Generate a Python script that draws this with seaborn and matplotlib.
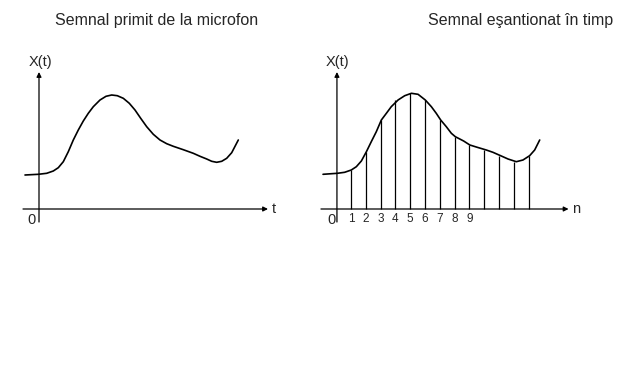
import matplotlib
matplotlib.use("Agg")
import matplotlib.pyplot as plt
import seaborn as sns
import pandas as pd

sns.set_theme(style="white")
plt.rcParams['font.family'] = ['Liberation Sans', 'DejaVu Sans']

# Left panel: continuous signal (t, X)
t_cont = [-14, -0.7, 7.7, 14.3, 19.3, 24.3, 29.3, 34.3, 39.3, 44.3, 49.3, 54.3, 61, 67, 72.7,
          78.3, 84.3, 90.3, 96, 101.7, 107.7, 114.3, 121, 127.7, 134.3, 144.3, 154.3, 161,
          167.7, 172.7, 177.7, 182.7, 187.7, 192.7, 199.3]
x_cont = [34, 34.7, 35.7, 38, 41.3, 47.3, 57.3, 69, 79, 88, 95.7, 102.3, 109, 112.7, 114,
          113.3, 110.7, 105.7, 99, 90.7, 82.3, 74.7, 69, 65.3, 62.7, 59.3, 55.7, 52.7,
          50, 47.7, 46.7, 47.7, 50.7, 56.3, 69]

# Right panel: sampled signal
n_curve = [-0.89, 0.08, 0.57, 1.02, 1.36, 1.70, 2.04, 2.37, 2.71, 3.05, 3.39, 3.72, 4.18, 4.63,
           5.08, 5.53, 6.02, 6.43, 6.76, 7.06, 7.44, 7.78, 8.05, 8.61, 9.03, 9.53, 10.14,
           10.59, 11.11, 11.61, 12.17, 12.62, 13.07, 13.41, 13.75]
x_curve = [34.7, 35.7, 36.7, 39, 42.3, 48, 57.3, 67.3, 77.3, 89, 95.7, 102.3, 109, 113.3,
           115.7, 114.7, 109, 102.3, 95.7, 89, 82.3, 75.7, 72.3, 68, 64, 61.7, 59,
           56.7, 53.3, 50, 47.3, 49, 53.3, 59, 69]
n_samples = [1, 2, 3, 4, 5, 6, 7, 8, 9, 10, 11, 12, 13]
x_samples = [39, 57.3, 89, 109, 115.7, 109, 89, 72.3, 64, 59, 53.3, 47.3, 53.3]
n_labels = ["1", "2", "3", "4", "5", "6", "7", "8", "9"]

title_left = "Semnal primit de la microfon"
title_right = "Semnal eşantionat în timp"

fig = plt.figure(figsize=(6.28, 3.84), dpi=100)
fig.patch.set_facecolor("white")

axL = fig.add_axes([0, 0, 0.5, 1])
axR = fig.add_axes([0.5, 0, 0.5, 1])
for ax in (axL, axR):
    ax.set_axis_off()
    ax.set_ylim(-175, 209)

axL.set_xlim(-39, 275)
step = 14.8
x0 = 336.2
axR.set_xlim((314 - x0) / step, (628 - x0) / step)

arrow = dict(arrowstyle='-|>', color='black', lw=0.9, mutation_scale=7, shrinkA=0, shrinkB=0)

# Left panel
dfL = pd.DataFrame({"t": t_cont, "X": x_cont})
sns.lineplot(data=dfL, x="t", y="X", ax=axL, color="black", lw=1.2, sort=False)
axL.annotate("", xy=(0, 137), xytext=(0, -13), arrowprops=arrow)
axL.annotate("", xy=(229, 0), xytext=(-16, 0), arrowprops=arrow)
axL.text(1, 140, "X(t)", ha="center", va="bottom", fontsize=10.5)
axL.text(233, 0, "t", ha="left", va="center", fontsize=10.5)
axL.text(-7, -11, "0", ha="center", va="center", fontsize=10.5)
axL.text(118, 189, title_left, ha="center", va="center", fontsize=11.5)

# Right panel
dfR = pd.DataFrame({"n": n_curve, "X": x_curve})
sns.lineplot(data=dfR, x="n", y="X", ax=axR, color="black", lw=1.2, sort=False)
axR.vlines(n_samples, 0, x_samples, color="black", lw=0.9)
axR.annotate("", xy=(0.05, 137), xytext=(0.05, -13), arrowprops=arrow)
axR.annotate("", xy=(15.7, 0), xytext=(-1.03, 0), arrowprops=arrow)
axR.text(0.1, 140, "X(t)", ha="center", va="bottom", fontsize=10.5)
axR.text(15.95, 0, "n", ha="left", va="center", fontsize=10.5)
axR.text(-0.35, -11, "0", ha="center", va="center", fontsize=10.5)
for i, lab in enumerate(n_labels):
    axR.text(n_samples[i], -10, lab, ha="center", va="center", fontsize=8.5)
axR.text(12.45, 189, title_right, ha="center", va="center", fontsize=11.5)

for ax in (axL, axR):
    if ax.get_legend():
        ax.get_legend().remove()

fig.savefig("out.png", dpi=100, facecolor="white")
